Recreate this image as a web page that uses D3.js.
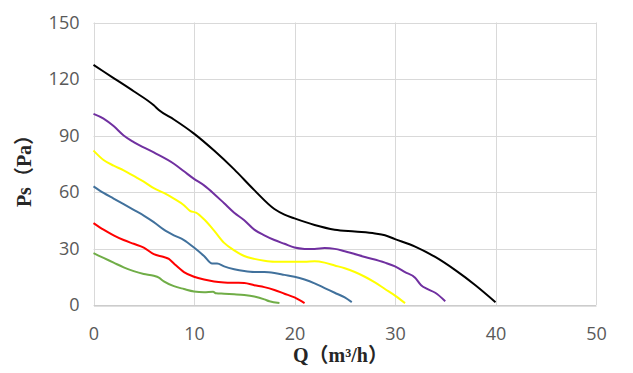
<!DOCTYPE html>
<html><head><meta charset="utf-8">
<script src="https://cdn.jsdelivr.net/npm/d3@7"></script>
<style>body{margin:0;background:#fff}</style>
</head><body>
<svg id="c" width="633" height="373"></svg>
<script>
const xTicks = [0, 10, 20, 30, 40, 50];
const yTicks = [0, 30, 60, 90, 120, 150];
const xTitle = "Q（m³/h）";
const yTitle = "Ps（Pa）";

const blackCurve = [[0,127.5],[2,120.5],[4,113.5],[6,106],[6.5,103.5],[8,98.5],[10,91],[12,82],[14,72],[16,61],[18,51],[19,48],[20,46],[22,42.5],[24,40],[26,39],[28,38],[29,37],[30,35],[32,31],[34,25.5],[36,18.5],[38,10.5],[40,1.5]];
const purpleCurve = [[0,101.5],[1,99],[2,95],[3,90],[4,86.5],[6,81],[8,75],[9,71],[10,67],[11,63.5],[12,59],[13,54],[14,49],[15,45],[16,40],[17,37],[18,34.5],[19,32.5],[20,30.5],[21,29.8],[22,29.7],[23,30.2],[24,29.8],[25,28.5],[27,25.5],[29,22.5],[30,20.5],[31,17.5],[32,14.5],[32.6,10.5],[33.2,8.5],[34,6.5],[35,2]];
const yellowCurve = [[0,82],[1,77],[2,74],[3,71.5],[4,68.5],[5,65.5],[6,62],[7,59.5],[8,56.5],[9,53],[9.6,50],[10.2,49],[11,45.5],[12,39.5],[13,33],[14,29],[15,26],[16,24.5],[17,23.5],[18,23],[20,23],[21,23],[22,23.2],[23,22.5],[24,21],[25,19.5],[26,17.5],[27,15],[28,12],[29,8.5],[30,5],[31,1]];
const blueCurve = [[0,63],[1,59.5],[2,56.5],[3,53.5],[4,50.5],[5,47.5],[6,44],[7,40],[8,37],[9,34.5],[10,30.5],[11,26],[11.8,22],[12.3,22],[13,20.5],[14,19],[15,18],[16,17.5],[17,17.5],[18,17],[19,16],[20,15],[21,13.5],[22,11.5],[23,9],[24,6.5],[25,4],[25.7,1.5]];
const redCurve = [[0,43.5],[1,40],[2,37],[3,34.5],[4,32.5],[5,30.5],[6,27],[7,25.5],[7.5,24.5],[8,22],[9,17.5],[10,15],[11,13.5],[12,12.5],[13,12],[14,11.8],[15,11.7],[16,10.5],[17,9.5],[18,8],[19,6],[20,4],[21,1]];
const greenCurve = [[0,27.5],[1,25],[2,22.5],[3,20],[4,18],[5,16.5],[6,15.5],[6.5,14.5],[7,12.5],[8,10],[9,8.5],[10,7.2],[11,6.8],[11.9,7],[12.2,6.2],[13,6],[14,5.7],[15,5.3],[16,4.5],[17,3],[17.5,2],[18.5,1]];

const series = [
  {data: blackCurve, color: "#000000"},
  {data: purpleCurve, color: "#7030a0"},
  {data: yellowCurve, color: "#ffff00"},
  {data: blueCurve, color: "#41719c"},
  {data: redCurve, color: "#ff0000"},
  {data: greenCurve, color: "#70ad47"}
];

const svg = d3.select("#c");
const x = d3.scaleLinear().domain([0, 50]).range([93.5, 596]);
const y = d3.scaleLinear().domain([0, 150]).range([305, 22.5]);

const grid = svg.append("g");
grid.selectAll("line.h").data(yTicks).join("line")
  .attr("x1", x(0)).attr("x2", x(50))
  .attr("y1", d => Math.round(y(d)) + 0.5).attr("y2", d => Math.round(y(d)) + 0.5)
  .attr("stroke", "#d9d9d9").attr("stroke-width", 1);
grid.selectAll("line.v").data(xTicks).join("line")
  .attr("y1", y(0)).attr("y2", y(150))
  .attr("x1", d => Math.round(x(d)) + 0.5).attr("x2", d => Math.round(x(d)) + 0.5)
  .attr("stroke", "#d9d9d9").attr("stroke-width", 1);

const xAxis = svg.append("g").attr("transform", `translate(0,${Math.round(y(0)) + 0.5})`)
  .call(d3.axisBottom(x).tickValues(xTicks).tickSize(0).tickPadding(22));
xAxis.select(".domain").attr("stroke", "#bfbfbf");
xAxis.selectAll("text").attr("fill", "#595959").style("font", "18px 'Open Sans'");

const yAxis = svg.append("g").attr("transform", `translate(${x(0)},0)`)
  .call(d3.axisLeft(y).tickValues(yTicks).tickSize(0).tickPadding(14));
yAxis.select(".domain").remove();
yAxis.selectAll("text").attr("fill", "#595959").style("font", "18px 'Open Sans'");

const line = d3.line().x(d => x(d[0])).y(d => y(d[1])).curve(d3.curveMonotoneX);
svg.append("g").selectAll("path").data(series).join("path")
  .attr("d", d => line(d.data)).attr("fill", "none")
  .attr("stroke", d => d.color).attr("stroke-width", 2).attr("stroke-linejoin", "round");

svg.append("text").attr("x", 340.5).attr("y", 362).attr("text-anchor", "middle")
  .style("font", "bold 20px 'Liberation Serif', 'Noto Sans CJK SC'").attr("fill", "#262626")
  .text(xTitle);
svg.append("text").attr("transform", "translate(31,166) rotate(-90)").attr("text-anchor", "middle")
  .style("font", "bold 20px 'Liberation Serif', 'Noto Sans CJK SC'").attr("fill", "#262626")
  .text(yTitle);
</script>
</body></html>
